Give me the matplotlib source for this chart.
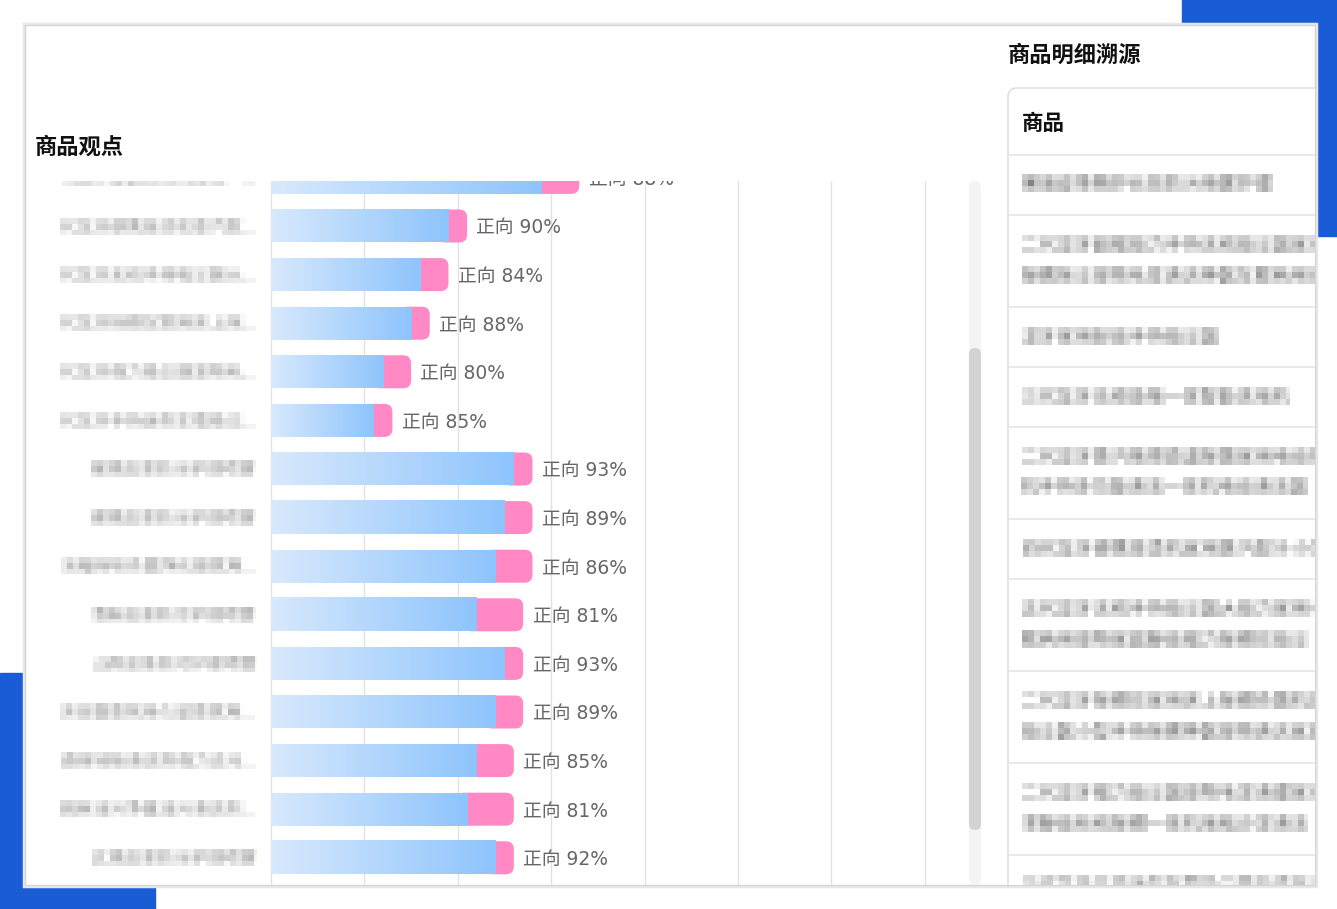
import numpy as np
import matplotlib
matplotlib.use("Agg")
import matplotlib.pyplot as plt
from matplotlib.patches import Rectangle, FancyBboxPatch
from matplotlib.colors import LinearSegmentedColormap

plt.rcParams['font.family'] = ['Noto Sans CJK SC', 'DejaVu Sans']

W, H = 1337, 909

# chart data (rows top to bottom, the list is scrolled so the first row is cut)
labels = [
    "五代龙牙智能洗地机吸拖一...",
    "四代龙牙便携挂烫机蒸汽熨...",
    "五代龙牙无线手持吸尘器大...",
    "二代龙牙除螨仪家用床上除...",
    "二代龙牙强力吸尘器宠物毛...",
    "二代龙牙手持迷你车载吸尘...",
    "奢境皮革防污护理喷雾",
    "健境皮革防污护理喷雾",
    "冰箱除味杀菌净化器家用...",
    "清新皮革防污护理喷雾",
    "山雨皮革防污护理喷雾",
    "沐浴露香氛持久留香家用...",
    "瓷砖地板清洁剂强力去污...",
    "厨房油污净重油污清洁剂...",
    "玄境皮革防污护理喷雾",
]
positive = [29, 19, 16, 15, 12, 11, 26, 25, 24, 22, 25, 24, 22, 21, 24]
negative = [4, 2, 3, 2, 3, 2, 2, 3, 4, 5, 2, 3, 4, 5, 2]

# right-hand detail table
table_rows = [
    ["奢境皮革精护长效防污喷雾护理"],
    ["二代龙牙超强吸力手持无线吸尘器家用大功率", "除螨除尘宠物毛发清洁神器车载两用家庭"],
    ["龙牙家用轻音手持吸尘器"],
    ["三代龙牙无线吸拖一体智能洗地机"],
    ["二代龙牙蒸汽拖把高温除菌家用电动拖地", "机手持多功能清洁一体机电动清洁器"],
    ["四代龙牙便携挂烫机家用蒸汽熨斗小型手持"],
    ["五代龙牙无线手持吸尘器大吸力家用小型车", "载两用宠物家庭静音强力除螨仪吸尘"],
    ["二代龙牙除螨仪家用床上除螨杀菌机紫外线", "吸尘器小型手持除螨神器宠物清洁家庭"],
    ["二代龙牙强力吸尘器宠物毛发清理家用大功", "率静音有线除螨一体机地毯沙发清洁"],
    ["三代龙牙手持迷你车载吸尘器无线充电大吸力"],
]

BLUE_L, BLUE_R = "#d8e9fd", "#8ec4fc"
PINK = "#ff88c5"


def pixelate(im, dpi, b=6):
    h, w, _ = im.shape
    hh, ww = -(-h // b) * b, -(-w // b) * b
    pad = np.zeros((hh, ww, 4))
    pad[:h, :w] = im
    blk = pad.reshape(hh // b, b, ww // b, b, 4)
    a = blk[..., 3].mean(axis=(1, 3))
    rgb = (blk[..., :3] * blk[..., 3:4]).sum(axis=(1, 3)) / np.maximum(blk[..., 3].sum(axis=(1, 3)), 1e-6)[..., None]
    out = np.dstack([rgb, a])
    out = np.repeat(np.repeat(out, b, 0), b, 1)[:h, :w]
    return out, 0, 0


fig = plt.figure(figsize=(W / 100, H / 100), dpi=100)


def px_axes(x0, y0, x1, y1, z=0):
    return fig.add_axes([x0 / W, 1 - y1 / H, (x1 - x0) / W, (y1 - y0) / H], zorder=z)


# background page, blue corners, card
bg = px_axes(0, 0, W, H, z=-5)
bg.set_xlim(0, W)
bg.set_ylim(H, 0)
bg.axis('off')
bg.add_patch(Rectangle((1182, 0), 155, 236, color="#1a5bd6"))
bg.add_patch(Rectangle((0, 673), 155, 236, color="#1a5bd6"))
bg.add_patch(Rectangle((24, 24), 1292, 862, fc="none", ec="#e8e8e8", lw=2.5))
bg.add_patch(Rectangle((25, 25), 1290, 860, fc="white", ec="#d4d4d4", lw=1.0))
bg.text(35, 147, "商品观点", fontsize=16, fontweight='bold', va='center', color="#111111")
bg.text(1008, 55, "商品明细溯源", fontsize=16, fontweight='bold', va='center', color="#111111")
# scrollbar
bg.add_patch(FancyBboxPatch((969, 181), 12, 704, boxstyle="round,pad=0,rounding_size=6", fc="#f4f4f4", ec="none"))
bg.add_patch(FancyBboxPatch((969, 348), 12, 482, boxstyle="round,pad=0,rounding_size=6", fc="#d3d3d3", ec="none"))

# bar chart
ax = px_axes(60, 181, 960, 885, z=1)
unit = 9.34
pitch = 48.6
x_lo, x_hi = -(271 - 60) / unit, (960 - 271) / unit
y_top = (181 - 177.4) / pitch
y_bot = (885 - 177.4) / pitch
bh = 33 / pitch
cmap = LinearSegmentedColormap.from_list("bar", [BLUE_L, BLUE_R])
grad = np.linspace(0, 1, 256).reshape(1, -1)
for i, (lab, p, n) in enumerate(zip(labels, positive, negative)):
    tot = p + n
    ax.add_patch(FancyBboxPatch((p - 1.2, i - bh / 2), n + 1.2, bh,
                                boxstyle="round,pad=0,rounding_size=0.86",
                                mutation_aspect=0.19, fc=PINK, ec="none", zorder=2))
    ax.imshow(grad, extent=(0, p, i + bh / 2, i - bh / 2), cmap=cmap, aspect='auto',
              interpolation='bilinear', zorder=3)
    ax.text(tot + 1.0, i + 0.04, f"正向 {round(p / tot * 100)}%", va='center', ha='left',
            fontsize=13.5, color="#666666", clip_on=True,
            family=['DejaVu Sans', 'Noto Sans CJK SC'])
    t = ax.text(-1.5, i + 0.03, lab, va='center', ha='right', fontsize=12, color="#858585", clip_on=True)
    t.set_agg_filter(pixelate)
ax.set_xlim(x_lo, x_hi)
ax.set_ylim(y_bot, y_top)
ax.set_aspect('auto')
ax.set_xticks(range(0, 71, 10))
ax.set_yticks([])
ax.grid(axis='x', color="#e2e2e2", lw=1, zorder=0)
ax.set_axisbelow(True)
ax.tick_params(length=0, labelbottom=False)
for s in ax.spines.values():
    s.set_visible(False)
ax.patch.set_alpha(0)

# detail table (clipped by the card edge)
tx = px_axes(1000, 80, 1315, 885, z=1)
tx.set_xlim(1000, 1315)
tx.set_ylim(885, 80)
tx.axis('off')
tx.add_patch(FancyBboxPatch((1008, 88), 400, 900, boxstyle="round,pad=0,rounding_size=9",
                            fc="white", ec="#e0e0e0", lw=1.2))
tx.text(1022, 124, "商品", fontsize=15.5, fontweight='bold', va='center', color="#111111")
top = 155
for lines in table_rows:
    tx.plot([1008, 1320], [top, top], color="#e4e4e4", lw=1.2)
    for k, line in enumerate(lines):
        t = tx.text(1021, top + 31 + 31 * k, line, fontsize=13, va='center', ha='left',
                    color="#555555", clip_on=True)
        t.set_agg_filter(pixelate)
    top += 60 + 32 * (len(lines) - 1)

fig.savefig("out.png", dpi=100)
